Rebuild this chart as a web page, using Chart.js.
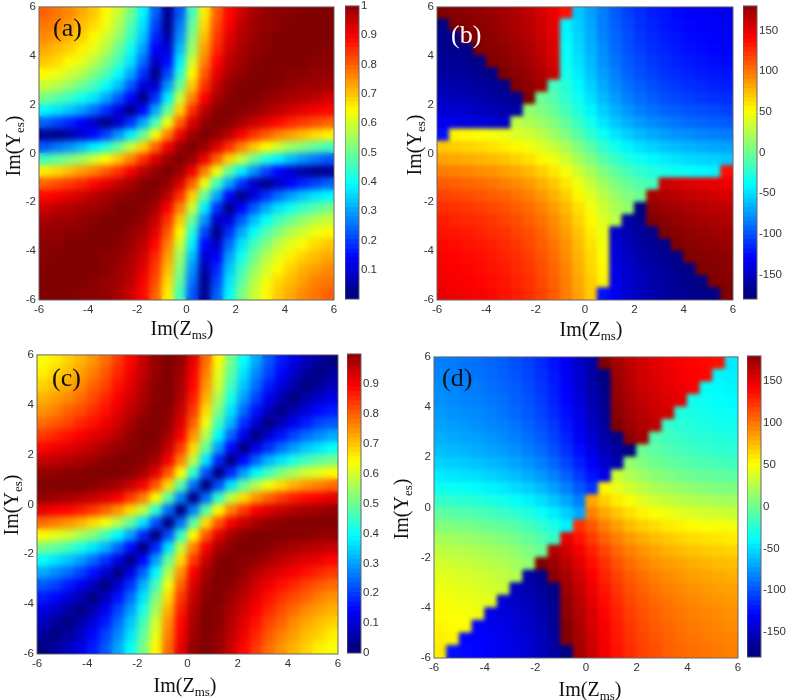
<!DOCTYPE html>
<html>
<head>
<meta charset="utf-8">
<script src="https://cdn.jsdelivr.net/npm/chart.js@4"></script>
<style>
html, body { margin: 0; padding: 0; background: #fff; overflow: hidden; }
canvas { position: absolute; }
</style>
</head>
<body>
<script>
// cell centres on both axes
const cellX = [-5.75,-5.25,-4.75,-4.25,-3.75,-3.25,-2.75,-2.25,-1.75,-1.25,-0.75,-0.25,0.25,0.75,1.25,1.75,2.25,2.75,3.25,3.75,4.25,4.75,5.25,5.75];
const cellY = [5.75,5.25,4.75,4.25,3.75,3.25,2.75,2.25,1.75,1.25,0.75,0.25,-0.25,-0.75,-1.25,-1.75,-2.25,-2.75,-3.25,-3.75,-4.25,-4.75,-5.25,-5.75];
const axisTicks = [-6,-4,-2,0,2,4,6];

// values, rows run top to bottom
const valuesA = [
[.78,.76,.74,.71,.68,.63,.57,.49,.37,.22,.02,.21,.44,.64,.78,.87,.92,.96,.98,.99,.99,1,1,1],
[.76,.75,.72,.69,.66,.61,.55,.46,.35,.19,.01,.24,.47,.66,.80,.88,.94,.97,.98,.99,1,1,1,1],
[.74,.72,.70,.67,.63,.58,.52,.43,.32,.16,.04,.27,.50,.69,.82,.90,.95,.97,.99,1,1,1,1,1],
[.71,.69,.67,.64,.60,.55,.48,.39,.28,.12,.08,.31,.53,.72,.84,.92,.96,.98,.99,1,1,1,1,.99],
[.68,.66,.63,.60,.56,.50,.44,.35,.23,.07,.13,.36,.58,.75,.87,.94,.97,.99,1,1,1,1,.99,.99],
[.63,.61,.58,.55,.50,.45,.38,.29,.17,.01,.19,.41,.63,.79,.90,.96,.98,1,1,1,.99,.99,.98,.98],
[.57,.55,.52,.48,.44,.38,.31,.21,.09,.07,.27,.48,.68,.83,.93,.98,1,1,1,.99,.98,.97,.97,.96],
[.49,.46,.43,.39,.35,.29,.21,.12,.01,.17,.36,.57,.75,.88,.96,.99,1,1,.98,.97,.96,.95,.94,.92],
[.37,.35,.32,.28,.23,.17,.09,.01,.13,.29,.47,.67,.83,.94,.99,1,.99,.98,.96,.94,.92,.90,.88,.87],
[.22,.19,.16,.12,.07,.01,.07,.17,.29,.44,.61,.78,.91,.98,1,.99,.96,.93,.90,.87,.84,.82,.80,.78],
[.02,.01,.04,.08,.13,.19,.27,.36,.47,.61,.75,.89,.97,1,.98,.94,.88,.83,.79,.75,.72,.69,.66,.64],
[.21,.24,.27,.31,.36,.41,.48,.57,.67,.78,.89,.97,1,.97,.91,.83,.75,.68,.63,.58,.53,.50,.47,.44],
[.44,.47,.50,.53,.58,.63,.68,.75,.83,.91,.97,1,.97,.89,.78,.67,.57,.48,.41,.36,.31,.27,.24,.21],
[.64,.66,.69,.72,.75,.79,.83,.88,.94,.98,1,.97,.89,.75,.61,.47,.36,.27,.19,.13,.08,.04,.01,.02],
[.78,.80,.82,.84,.87,.90,.93,.96,.99,1,.98,.91,.78,.61,.44,.29,.17,.07,.01,.07,.12,.16,.19,.22],
[.87,.88,.90,.92,.94,.96,.98,.99,1,.99,.94,.83,.67,.47,.29,.13,.01,.09,.17,.23,.28,.32,.35,.37],
[.92,.94,.95,.96,.97,.98,1,1,.99,.96,.88,.75,.57,.36,.17,.01,.12,.21,.29,.35,.39,.43,.46,.49],
[.96,.97,.97,.98,.99,1,1,1,.98,.93,.83,.68,.48,.27,.07,.09,.21,.31,.38,.44,.48,.52,.55,.57],
[.98,.98,.99,.99,1,1,1,.98,.96,.90,.79,.63,.41,.19,.01,.17,.29,.38,.45,.50,.55,.58,.61,.63],
[.99,.99,1,1,1,1,.99,.97,.94,.87,.75,.58,.36,.13,.07,.23,.35,.44,.50,.56,.60,.63,.66,.68],
[.99,1,1,1,1,.99,.98,.96,.92,.84,.72,.53,.31,.08,.12,.28,.39,.48,.55,.60,.64,.67,.69,.71],
[1,1,1,1,1,.99,.97,.95,.90,.82,.69,.50,.27,.04,.16,.32,.43,.52,.58,.63,.67,.70,.72,.74],
[1,1,1,1,.99,.98,.97,.94,.88,.80,.66,.47,.24,.01,.19,.35,.46,.55,.61,.66,.69,.72,.75,.76],
[1,1,1,.99,.99,.98,.96,.92,.87,.78,.64,.44,.21,.02,.22,.37,.49,.57,.63,.68,.71,.74,.76,.78]
];
const valuesB = [
[180,178,176,174,171,168,163,158,150,141,130,-64,-78,-91,-103,-112,-119,-125,-129,-133,-136,-138,-140,-142],
[-178,180,178,176,173,169,165,159,152,143,-49,-62,-76,-90,-101,-110,-118,-123,-128,-131,-134,-136,-138,-140],
[-176,-178,180,178,175,171,167,161,154,145,-47,-60,-74,-88,-99,-108,-116,-121,-126,-129,-132,-134,-136,-138],
[-174,-176,-178,180,177,174,169,164,156,147,-44,-58,-72,-85,-97,-106,-113,-119,-123,-127,-130,-132,-134,-136],
[-171,-173,-175,-177,180,177,172,167,159,150,-41,-55,-69,-83,-94,-103,-110,-116,-120,-124,-127,-129,-131,-133],
[-168,-169,-171,-174,-177,180,176,170,163,154,-38,-51,-66,-79,-90,-100,-107,-112,-117,-120,-123,-126,-128,-129],
[-163,-165,-167,-169,-172,-176,180,174,167,-22,-33,-47,-61,-75,-86,-95,-102,-108,-112,-116,-119,-121,-123,-125],
[-158,-159,-161,-164,-167,-170,-174,180,-7,-16,-28,-41,-56,-69,-80,-90,-97,-102,-107,-110,-113,-116,-118,-119],
[-150,-152,-154,-156,-159,-163,-167,7,0,-9,-21,-34,-48,-62,-73,-82,-90,-95,-100,-103,-106,-108,-110,-112],
[-141,-143,-145,-147,-150,-154,22,16,9,0,-11,-25,-39,-53,-64,-73,-80,-86,-90,-94,-97,-99,-101,-103],
[-130,49,47,44,41,38,33,28,21,11,0,-14,-28,-41,-53,-62,-69,-75,-79,-83,-85,-88,-90,-91],
[64,62,60,58,55,51,47,41,34,25,14,0,-14,-28,-39,-48,-56,-61,-66,-69,-72,-74,-76,-78],
[78,76,74,72,69,66,61,56,48,39,28,14,0,-14,-25,-34,-41,-47,-51,-55,-58,-60,-62,-64],
[91,90,88,85,83,79,75,69,62,53,41,28,14,0,-11,-21,-28,-33,-38,-41,-44,-47,-49,130],
[103,101,99,97,94,90,86,80,73,64,53,39,25,11,0,-9,-16,-22,154,150,147,145,143,141],
[112,110,108,106,103,100,95,90,82,73,62,48,34,21,9,0,-7,167,163,159,156,154,152,150],
[119,118,116,113,110,107,102,97,90,80,69,56,41,28,16,7,-180,174,170,167,164,161,159,158],
[125,123,121,119,116,112,108,102,95,86,75,61,47,33,22,-167,-174,180,176,172,169,167,165,163],
[129,128,126,123,120,117,112,107,100,90,79,66,51,38,-154,-163,-170,-176,180,177,174,171,169,168],
[133,131,129,127,124,120,116,110,103,94,83,69,55,41,-150,-159,-167,-172,-177,180,177,175,173,171],
[136,134,132,130,127,123,119,113,106,97,85,72,58,44,-147,-156,-164,-169,-174,-177,180,178,176,174],
[138,136,134,132,129,126,121,116,108,99,88,74,60,47,-145,-154,-161,-167,-171,-175,-178,180,178,176],
[140,138,136,134,131,128,123,118,110,101,90,76,62,49,-143,-152,-159,-165,-169,-173,-176,-178,180,178],
[142,140,138,136,133,129,125,119,112,103,91,78,64,-130,-141,-150,-158,-163,-168,-171,-174,-176,-178,180]
];
const valuesC = [
[.62,.64,.67,.70,.73,.77,.82,.87,.93,.98,1,.98,.90,.77,.63,.49,.38,.29,.21,.15,.10,.06,.03,0],
[.64,.67,.69,.72,.75,.79,.84,.89,.94,.98,1,.97,.88,.75,.60,.47,.35,.26,.19,.13,.07,.03,0,.03],
[.67,.69,.71,.74,.78,.81,.86,.90,.95,.99,1,.96,.87,.73,.58,.44,.32,.23,.15,.09,.04,0,.03,.06],
[.70,.72,.74,.77,.80,.84,.88,.92,.96,.99,1,.95,.85,.70,.54,.40,.28,.19,.11,.05,0,.04,.07,.10],
[.73,.75,.78,.80,.83,.86,.90,.94,.97,1,.99,.93,.82,.66,.50,.35,.23,.14,.06,0,.05,.09,.13,.15],
[.77,.79,.81,.84,.86,.89,.92,.96,.99,1,.98,.91,.78,.61,.44,.30,.17,.08,0,.06,.11,.15,.19,.21],
[.82,.84,.86,.88,.90,.92,.95,.98,1,1,.96,.88,.73,.55,.37,.22,.10,0,.08,.14,.19,.23,.26,.29],
[.87,.89,.90,.92,.94,.96,.98,.99,1,.99,.93,.82,.66,.47,.28,.13,0,.10,.17,.23,.28,.32,.35,.38],
[.93,.94,.95,.96,.97,.99,1,1,.99,.96,.88,.75,.56,.35,.16,0,.13,.22,.30,.35,.40,.44,.47,.49],
[.98,.98,.99,.99,1,1,1,.99,.96,.90,.79,.63,.42,.20,0,.16,.28,.37,.44,.50,.54,.58,.60,.63],
[1,1,1,1,.99,.98,.96,.93,.88,.79,.66,.46,.23,0,.20,.35,.47,.55,.61,.66,.70,.73,.75,.77],
[.98,.97,.96,.95,.93,.91,.88,.82,.75,.63,.46,.25,0,.23,.42,.56,.66,.73,.78,.82,.85,.87,.88,.90],
[.90,.88,.87,.85,.82,.78,.73,.66,.56,.42,.23,0,.25,.46,.63,.75,.82,.88,.91,.93,.95,.96,.97,.98],
[.77,.75,.73,.70,.66,.61,.55,.47,.35,.20,0,.23,.46,.66,.79,.88,.93,.96,.98,.99,1,1,1,1],
[.63,.60,.58,.54,.50,.44,.37,.28,.16,0,.20,.42,.63,.79,.90,.96,.99,1,1,1,.99,.99,.98,.98],
[.49,.47,.44,.40,.35,.30,.22,.13,0,.16,.35,.56,.75,.88,.96,.99,1,1,.99,.97,.96,.95,.94,.93],
[.38,.35,.32,.28,.23,.17,.10,0,.13,.28,.47,.66,.82,.93,.99,1,.99,.98,.96,.94,.92,.90,.89,.87],
[.29,.26,.23,.19,.14,.08,0,.10,.22,.37,.55,.73,.88,.96,1,1,.98,.95,.92,.90,.88,.86,.84,.82],
[.21,.19,.15,.11,.06,0,.08,.17,.30,.44,.61,.78,.91,.98,1,.99,.96,.92,.89,.86,.84,.81,.79,.77],
[.15,.13,.09,.05,0,.06,.14,.23,.35,.50,.66,.82,.93,.99,1,.97,.94,.90,.86,.83,.80,.78,.75,.73],
[.10,.07,.04,0,.05,.11,.19,.28,.40,.54,.70,.85,.95,1,.99,.96,.92,.88,.84,.80,.77,.74,.72,.70],
[.06,.03,0,.04,.09,.15,.23,.32,.44,.58,.73,.87,.96,1,.99,.95,.90,.86,.81,.78,.74,.71,.69,.67],
[.03,0,.03,.07,.13,.19,.26,.35,.47,.60,.75,.88,.97,1,.98,.94,.89,.84,.79,.75,.72,.69,.67,.64],
[0,.03,.06,.10,.15,.21,.29,.38,.49,.63,.77,.90,.98,1,.98,.93,.87,.82,.77,.73,.70,.67,.64,.62]
];
const valuesD = [
[-90,-92,-94,-96,-99,-102,-107,-112,-120,-129,-140,-154,-168,179,167,158,151,145,141,137,134,132,130,-52],
[-88,-90,-92,-94,-97,-101,-105,-111,-118,-127,-139,-152,-166,-180,169,160,152,147,142,139,136,134,-48,-50],
[-86,-88,-90,-92,-95,-99,-103,-109,-116,-125,-137,-150,-164,-178,171,162,154,149,144,141,138,-44,-46,-48],
[-84,-86,-88,-90,-93,-96,-101,-106,-114,-123,-134,-148,-162,-175,173,164,157,151,147,143,-40,-42,-44,-46],
[-81,-83,-85,-87,-90,-94,-98,-104,-111,-120,-131,-145,-159,-173,176,167,160,154,150,-34,-37,-39,-41,-43],
[-78,-79,-81,-84,-87,-90,-94,-100,-107,-116,-128,-141,-156,-169,180,170,163,158,-27,-30,-33,-36,-38,-39],
[-73,-75,-77,-79,-82,-86,-90,-96,-103,-112,-123,-137,-151,-165,-176,175,168,-18,-22,-26,-29,-31,-33,-35],
[-68,-69,-71,-74,-77,-80,-84,-90,-97,-106,-118,-131,-146,-159,-170,-180,-7,-12,-17,-20,-23,-26,-28,-29],
[-60,-62,-64,-66,-69,-73,-77,-83,-90,-99,-111,-124,-138,-152,-163,8,0,-5,-10,-13,-16,-18,-20,-22],
[-51,-53,-55,-57,-60,-64,-68,-74,-81,-90,-101,-115,-129,-143,26,17,10,4,0,-4,-7,-9,-11,-13],
[-40,-42,-43,-46,-49,-52,-57,-62,-69,-79,-90,-104,-118,49,37,28,21,15,11,8,5,2,0,-1],
[-26,-28,-30,-32,-35,-39,-43,-49,-56,-65,-76,-90,76,62,51,42,34,29,25,21,18,16,14,12],
[-12,-14,-16,-18,-21,-25,-29,-34,-42,-51,-62,-76,90,76,65,56,49,43,39,35,32,30,28,26],
[1,0,-2,-5,-8,-11,-15,-21,-28,-37,-49,118,104,90,79,69,62,57,52,49,46,43,42,40],
[13,11,9,7,4,0,-4,-10,-17,-26,143,129,115,101,90,81,74,68,64,60,57,55,53,51],
[22,20,18,16,13,10,5,0,-8,163,152,138,124,111,99,90,83,77,73,69,66,64,62,60],
[29,28,26,23,20,17,12,7,180,170,159,146,131,118,106,97,90,84,80,77,74,71,69,68],
[35,33,31,29,26,22,18,-168,-175,176,165,151,137,123,112,103,96,90,86,82,79,77,75,73],
[39,38,36,33,30,27,-158,-163,-170,-180,169,156,141,128,116,107,100,94,90,87,84,81,79,78],
[43,41,39,37,34,-150,-154,-160,-167,-176,173,159,145,131,120,111,104,98,94,90,87,85,83,81],
[46,44,42,40,-143,-147,-151,-157,-164,-173,175,162,148,134,123,114,106,101,96,93,90,88,86,84],
[48,46,44,-138,-141,-144,-149,-154,-162,-171,178,164,150,137,125,116,109,103,99,95,92,90,88,86],
[50,48,-134,-136,-139,-142,-147,-152,-160,-169,180,166,152,139,127,118,111,105,101,97,94,92,90,88],
[52,-130,-132,-134,-137,-141,-145,-151,-158,-167,-179,168,154,140,129,120,112,107,102,99,96,94,92,90]
];

const ticksMag = [0.1,0.2,0.3,0.4,0.5,0.6,0.7,0.8,0.9,1];
const ticksMagC = [0,0.1,0.2,0.3,0.4,0.5,0.6,0.7,0.8,0.9];
const ticksPhase = [-150,-100,-50,0,50,100,150];
const barSteps = 64; // colours in the colour bar ramp

function jet(t) {
  t = Math.max(0, Math.min(1, t));
  const c = (x) => Math.round(255 * Math.max(0, Math.min(1, x)));
  return `rgb(${c(1.5 - Math.abs(4 * t - 3))},${c(1.5 - Math.abs(4 * t - 2))},${c(1.5 - Math.abs(4 * t - 1))})`;
}

const tickFont = { family: "'Liberation Sans', Arial", size: 11.5 };
const tickColor = "#333";
const frameColor = "#666";

// soften the cell edges a little, only inside the plot area
const blurCells = {
  id: "blurCells",
  afterDatasetsDraw(chart, args, opts) {
    const a = chart.chartArea, ctx = chart.ctx;
    ctx.save();
    ctx.beginPath();
    ctx.rect(a.left, a.top, a.width, a.height);
    ctx.clip();
    ctx.filter = `blur(${opts.px}px)`;
    ctx.drawImage(chart.canvas, 0, 0);
    ctx.restore();
  },
};

const plotFrame = {
  id: "plotFrame",
  afterDraw(chart) {
    const ctx = chart.ctx, a = chart.chartArea;
    ctx.save();
    ctx.strokeStyle = frameColor;
    ctx.lineWidth = 1;
    ctx.strokeRect(a.left, a.top, a.width, a.height);
    ctx.restore();
  },
};

// panel letter and the axis names with their subscripts
const panelText = {
  id: "panelText",
  afterDraw(chart, args, o) {
    const ctx = chart.ctx, a = chart.chartArea;
    ctx.save();
    ctx.fillStyle = o.letterColor;
    ctx.font = "26px 'Liberation Serif', serif";
    ctx.fillText(o.letter, a.left + o.letterPos[0], a.top + o.letterPos[1]);

    ctx.fillStyle = "#111";
    ctx.textBaseline = "alphabetic";
    const label = (main, sub, cx, y) => {
      ctx.font = "20px 'Liberation Serif', serif";
      const w1 = ctx.measureText(main).width, w3 = ctx.measureText(")").width;
      ctx.font = "13px 'Liberation Serif', serif";
      const w2 = ctx.measureText(sub).width;
      let x = cx - (w1 + w2 + w3) / 2;
      ctx.font = "20px 'Liberation Serif', serif";
      ctx.fillText(main, x, y);
      ctx.font = "13px 'Liberation Serif', serif";
      ctx.fillText(sub, x + w1, y + 4);
      ctx.font = "20px 'Liberation Serif', serif";
      ctx.fillText(")", x + w1 + w2, y);
    };
    label("Im(Z", "ms", o.xLabel[0] - o.originX, o.xLabel[1] - o.originY);
    ctx.translate(o.yLabel[0] - o.originX, o.yLabel[1] - o.originY);
    ctx.rotate(-Math.PI / 2);
    label("Im(Y", "es", 0, 0);
    ctx.restore();
  },
};

function placeCanvas(left, top, w, h) {
  const cv = document.createElement("canvas");
  cv.width = w;
  cv.height = h;
  cv.style.left = left + "px";
  cv.style.top = top + "px";
  cv.style.width = w + "px";
  cv.style.height = h + "px";
  document.body.appendChild(cv);
  return cv;
}

function drawPanel(p) {
  const pts = [], colors = [];
  p.values.forEach((row, j) => row.forEach((v, i) => {
    pts.push({ x: cellX[i], y: cellY[j] });
    colors.push(jet((v - p.min) / (p.max - p.min)));
  }));
  const cellSize = Math.max(p.w, p.h) / cellX.length;
  const originX = p.x - 45, originY = p.y - 8;
  const cv = placeCanvas(originX, originY, p.w + 53, p.h + 52);
  new Chart(cv, {
    type: "scatter",
    data: { datasets: [{ data: pts, pointStyle: "rect", pointRadius: cellSize * 0.76, pointHoverRadius: 0, pointBorderWidth: 0, pointBackgroundColor: colors }] },
    options: {
      responsive: false,
      animation: false,
      events: [],
      layout: { autoPadding: false, padding: { top: 8, right: 8, left: 0, bottom: 0 } },
      plugins: {
        legend: { display: false },
        tooltip: { enabled: false },
        blurCells: { px: p.blur },
        panelText: { letter: p.letter, letterPos: p.letterPos, letterColor: p.letterColor, xLabel: p.xLabel, yLabel: p.yLabel, originX, originY },
      },
      scales: {
        x: {
          type: "linear", min: -6, max: 6,
          afterBuildTicks: (s) => { s.ticks = axisTicks.map((v) => ({ value: v })); },
          afterFit: (s) => { s.height = 44; },
          grid: { display: false, drawTicks: false },
          border: { display: false },
          ticks: { font: tickFont, color: tickColor, padding: 3, maxRotation: 0 },
        },
        y: {
          type: "linear", min: -6, max: 6,
          afterBuildTicks: (s) => { s.ticks = axisTicks.map((v) => ({ value: v })); },
          afterFit: (s) => { s.width = 45; },
          grid: { display: false, drawTicks: false },
          border: { display: false },
          ticks: { font: tickFont, color: tickColor, padding: 3 },
        },
      },
    },
    plugins: [blurCells, plotFrame, panelText],
  });
}

function drawBar(b) {
  const step = (b.max - b.min) / barSteps;
  const sets = [];
  for (let i = 0; i < barSteps; i++) {
    const lo = b.min + i * step;
    // each step runs on under the next one so no seam shows
    sets.push({ data: [[lo, lo + 2 * step]], backgroundColor: jet((i + 0.5) / barSteps), barPercentage: 1, categoryPercentage: 1, grouped: false });
  }
  const cv = placeCanvas(b.x, b.y - 8, b.w + 34, b.h + 16);
  new Chart(cv, {
    type: "bar",
    data: { labels: [""], datasets: sets },
    options: {
      responsive: false,
      animation: false,
      events: [],
      layout: { autoPadding: false, padding: { top: 8, bottom: 8 } },
      plugins: { legend: { display: false }, tooltip: { enabled: false } },
      scales: {
        x: { display: false },
        y: {
          type: "linear", position: "right", min: b.min, max: b.max,
          afterBuildTicks: (s) => { s.ticks = b.ticks.map((v) => ({ value: v })); },
          afterFit: (s) => { s.width = 34; },
          grid: { display: false, drawTicks: false },
          border: { display: false },
          ticks: { font: tickFont, color: tickColor, padding: 2, callback: (v) => String(v) },
        },
      },
    },
    plugins: [plotFrame],
  });
}

drawPanel({ letter: "(a)", letterPos: [14, 29], letterColor: "#111", values: valuesA, min: 0, max: 1, x: 39, y: 5, w: 295, h: 295, blur: 3, xLabel: [182, 335], yLabel: [20, 146] });
drawPanel({ letter: "(b)", letterPos: [14, 36], letterColor: "#fff", values: valuesB, min: -180, max: 180, x: 437, y: 5, w: 296, h: 295, blur: 2, xLabel: [591, 336], yLabel: [421, 145] });
drawPanel({ letter: "(c)", letterPos: [15, 31], letterColor: "#111", values: valuesC, min: 0, max: 1, x: 37, y: 353, w: 301, h: 301, blur: 3, xLabel: [185, 692], yLabel: [18, 505] });
drawPanel({ letter: "(d)", letterPos: [8, 29], letterColor: "#111", values: valuesD, min: -180, max: 180, x: 434, y: 355, w: 304, h: 303, blur: 2, xLabel: [590, 696], yLabel: [408, 509] });

drawBar({ x: 345, y: 5, w: 14, h: 295, min: 0, max: 1, ticks: ticksMag });
drawBar({ x: 743, y: 5, w: 14, h: 295, min: -180, max: 180, ticks: ticksPhase });
drawBar({ x: 347, y: 353, w: 14, h: 301, min: 0, max: 1, ticks: ticksMagC });
drawBar({ x: 747, y: 355, w: 14, h: 303, min: -180, max: 180, ticks: ticksPhase });
</script>
</body>
</html>
